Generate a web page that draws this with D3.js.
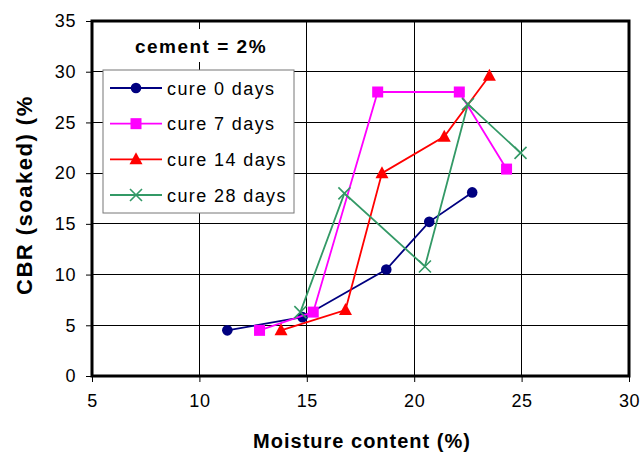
<!DOCTYPE html>
<html>
<head>
<meta charset="utf-8">
<script src="https://cdn.jsdelivr.net/npm/d3@7"></script>
<style>
  html, body { margin: 0; padding: 0; background: #fff; }
  svg { display: block; font-family: "Liberation Sans", Arial, sans-serif; }
</style>
</head>
<body>
<svg id="chart" width="640" height="460"></svg>
<script>
// CBR (soaked) vs moisture content, cement = 2%, by curing period
const seriesNames = ["cure 0 days", "cure 7 days", "cure 14 days", "cure 28 days"];
const moisture0  = [11.3, 14.8, 18.7, 20.7, 22.7];
const cbr0       = [4.5, 5.8, 10.5, 15.2, 18.1];
const moisture7  = [12.8, 15.3, 18.3, 22.1, 24.3];
const cbr7       = [4.5, 6.3, 28.0, 28.0, 20.4];
const moisture14 = [13.8, 16.8, 18.5, 21.4, 23.5];
const cbr14      = [4.5, 6.5, 20.0, 23.6, 29.6];
const moisture28 = [14.7, 16.75, 20.5, 22.5, 24.95];
const cbr28      = [6.3, 18.0, 10.8, 26.8, 22.0];
const xTicks = [5, 10, 15, 20, 25, 30];
const yTicks = [0, 5, 10, 15, 20, 25, 30, 35];

const colors  = ["#000080", "#FF00FF", "#FF0000", "#339966"];
const symbols = ["circle", "square", "triangle", "cross"];

const series = [
  { xs: moisture0,  ys: cbr0 },
  { xs: moisture7,  ys: cbr7 },
  { xs: moisture14, ys: cbr14 },
  { xs: moisture28, ys: cbr28 }
].map((s, i) => ({
  name: seriesNames[i], color: colors[i], symbol: symbols[i],
  points: s.xs.map((x, j) => ({ x, y: s.ys[j] }))
}));

const svg = d3.select("#chart");
const plotLeft = 92, plotRight = 629, plotTop = 21, plotBottom = 376;

const x = d3.scaleLinear().domain([5, 30]).range([plotLeft, plotRight]);
const y = d3.scaleLinear().domain([0, 35]).range([plotBottom, plotTop]);

// grid
const grid = svg.append("g").attr("stroke", "#000").attr("stroke-width", 1).attr("shape-rendering", "crispEdges");
grid.selectAll("line.v").data(xTicks.slice(1, -1)).join("line")
  .attr("x1", d => x(d)).attr("x2", d => x(d)).attr("y1", plotTop).attr("y2", plotBottom);
grid.selectAll("line.h").data(yTicks.slice(1, -1)).join("line")
  .attr("x1", plotLeft).attr("x2", plotRight).attr("y1", d => y(d)).attr("y2", d => y(d));

// axes
const tickFont = g => g.selectAll("text")
  .attr("font-size", 18).attr("fill", "#000")
  .attr("font-family", "'Liberation Sans', Arial, sans-serif")
  .attr("letter-spacing", 0.6);

svg.append("g").attr("transform", `translate(0,${plotBottom})`)
  .call(d3.axisBottom(x).tickValues(xTicks).tickSize(6).tickPadding(12).tickFormat(d3.format("d")))
  .call(g => g.select(".domain").remove())
  .call(g => g.selectAll("line").attr("stroke", "#000"))
  .call(tickFont);

svg.append("g").attr("transform", `translate(${plotLeft},0)`)
  .call(d3.axisLeft(y).tickValues(yTicks).tickSize(6).tickPadding(10).tickFormat(d3.format("d")))
  .call(g => g.select(".domain").remove())
  .call(g => g.selectAll("line").attr("stroke", "#000"))
  .call(tickFont);

// plot frame
svg.append("rect")
  .attr("x", plotLeft).attr("y", plotTop).attr("width", plotRight - plotLeft).attr("height", plotBottom - plotTop)
  .attr("fill", "none").attr("stroke", "#000").attr("stroke-width", 3);

// title box
svg.append("rect").attr("x", 128).attr("y", 29).attr("width", 146).attr("height", 33).attr("fill", "#fff");
svg.append("text")
  .attr("x", 201).attr("y", 53).attr("text-anchor", "middle")
  .attr("font-size", 19).attr("font-weight", "bold").attr("letter-spacing", 1.5)
  .text("cement = 2%");

// legend
const legend = svg.append("g");
legend.append("rect").attr("x", 103).attr("y", 70).attr("width", 191).attr("height", 143)
  .attr("fill", "#fff").attr("stroke", "#777").attr("stroke-width", 1);

function drawMarker(sel, symbol, color) {
  if (symbol === "circle") {
    sel.append("circle").attr("r", 5.3).attr("fill", color);
  } else if (symbol === "square") {
    sel.append("rect").attr("x", -5.5).attr("y", -5.5).attr("width", 11).attr("height", 11).attr("fill", color);
  } else if (symbol === "triangle") {
    sel.append("path").attr("d", "M0,-7L6.5,5L-6.5,5Z").attr("fill", color);
  } else {
    sel.append("path").attr("d", "M-6,-6L6,6M-6,6L6,-6").attr("stroke", color).attr("stroke-width", 1.6).attr("fill", "none");
  }
}

const legendY = d3.scalePoint().domain(seriesNames).range([88, 195]);
series.forEach(s => {
  const g = legend.append("g").attr("transform", `translate(0,${legendY(s.name)})`);
  g.append("line").attr("x1", 110).attr("x2", 162).attr("y1", 0).attr("y2", 0)
    .attr("stroke", s.color).attr("stroke-width", 1.8);
  drawMarker(g.append("g").attr("transform", "translate(136,0)"), s.symbol, s.color);
  g.append("text").attr("x", 167).attr("y", 6.5)
    .attr("font-size", 18).attr("letter-spacing", 1.4).text(s.name);
});

// series lines and markers
const line = d3.line().x(d => x(d.x)).y(d => y(d.y));
series.forEach(s => {
  svg.append("path").datum(s.points).attr("d", line)
    .attr("fill", "none").attr("stroke", s.color).attr("stroke-width", 1.8);
  svg.append("g").selectAll("g").data(s.points).join("g")
    .attr("transform", d => `translate(${x(d.x)},${y(d.y)})`)
    .each(function () { drawMarker(d3.select(this), s.symbol, s.color); });
});

// axis titles
svg.append("text")
  .attr("x", 362).attr("y", 448).attr("text-anchor", "middle")
  .attr("font-size", 20).attr("font-weight", "bold").attr("letter-spacing", 1)
  .text("Moisture content (%)");

// the vertical title runs past the top of its area and is cut there
svg.append("clipPath").attr("id", "ylabel-clip")
  .append("rect").attr("x", 0).attr("y", 96).attr("width", 60).attr("height", 300);
svg.append("g").attr("clip-path", "url(#ylabel-clip)")
  .append("text")
  .attr("transform", "translate(32,295) rotate(-90)")
  .attr("text-anchor", "start")
  .attr("font-size", 22).attr("font-weight", "bold").attr("letter-spacing", 1.5)
  .text("CBR (soaked) (%)");
</script>
</body>
</html>
